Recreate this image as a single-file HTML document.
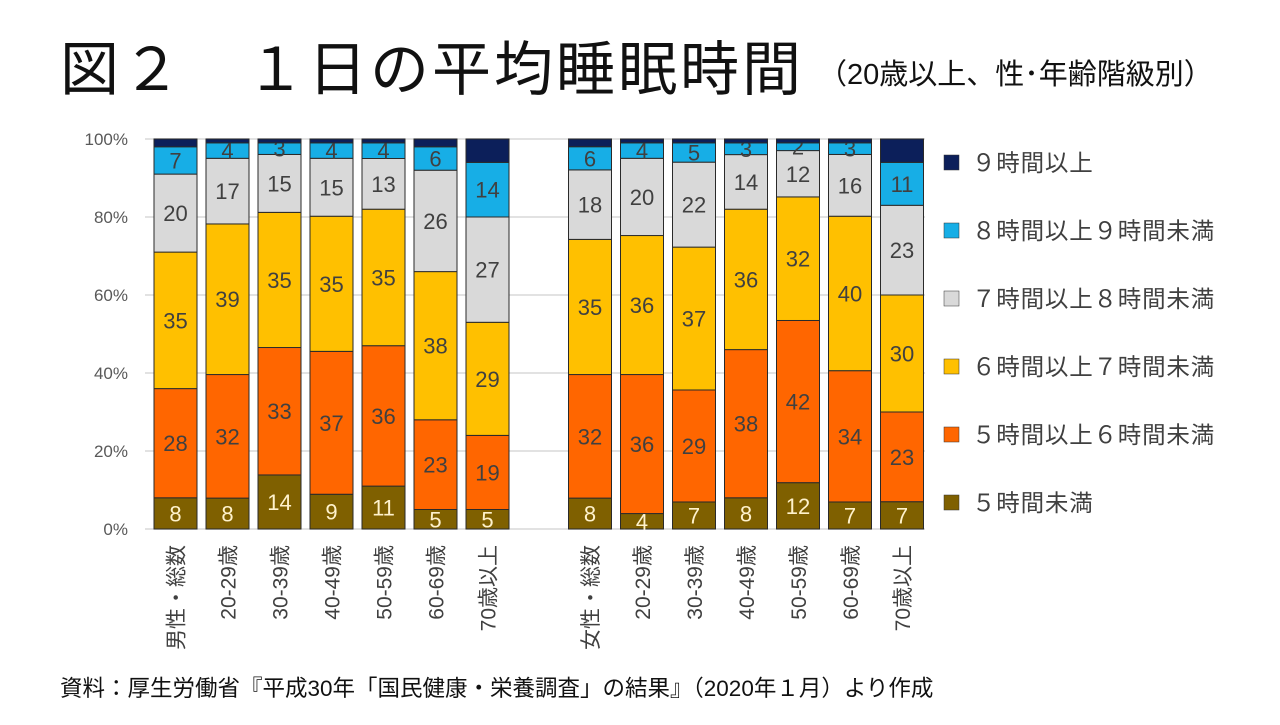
<!DOCTYPE html>
<html><head><meta charset="utf-8"><style>
body{margin:0;width:1280px;height:720px;background:#fff;overflow:hidden;font-family:"Liberation Sans","Noto Sans CJK JP",sans-serif}
</style></head><body>
<svg width="1280" height="720" xmlns="http://www.w3.org/2000/svg" font-family="Liberation Sans, Noto Sans CJK JP, sans-serif">
<text x="60" y="90" font-size="59" letter-spacing="3" fill="#111">図２　１日の平均睡眠時間<tspan font-size="29" letter-spacing="0" dx="14" dy="-6">（20歳以上、性･年齢階級別）</tspan></text>
<g id="grid"></g><g id="bars"></g><g id="xlabels"></g><g id="legend"></g>
<text x="60" y="696" font-size="22.5" fill="#111">資料：厚生労働省『平成30年「国民健康・栄養調査」の結果』（2020年１月）より作成</text>
</svg>
<script>
const categories=["男性・総数","20-29歳","30-39歳","40-49歳","50-59歳","60-69歳","70歳以上","女性・総数","20-29歳","30-39歳","40-49歳","50-59歳","60-69歳","70歳以上"];
const seriesNames=["5時間未満","5時間以上６時間未満","6時間以上７時間未満","7時間以上８時間未満","8時間以上９時間未満","9時間以上"];
const under5=[8,8,14,9,11,5,5,8,4,7,8,12,7,7];
const h5to6=[28,32,33,37,36,23,19,32,36,29,38,42,34,23];
const h6to7=[35,39,35,35,35,38,29,35,36,37,36,32,40,30];
const h7to8=[20,17,15,15,13,26,27,18,20,22,14,12,16,23];
const h8to9=[7,4,3,4,4,6,14,6,4,5,3,2,3,11];
const over9=[2,1,1,1,1,2,6,2,1,1,1,1,1,6];
const yTicks=[0,20,40,60,80,100];
const legendLabels=["９時間以上","８時間以上９時間未満","７時間以上８時間未満","６時間以上７時間未満","５時間以上６時間未満","５時間未満"];
const colors=["#7f6000","#ff6600","#ffc000","#d9d9d9","#17aee6","#0c1f5a"];
const series=[under5,h5to6,h6to7,h7to8,h8to9,over9];
const NS="http://www.w3.org/2000/svg";
const y0=529,y100=139;
const y=v=>y0-(y0-y100)*v/100;
const xc=i=>i<7?175.5+52*i:590+52*(i-7);
const bw=43;
function mk(t,a,p){const e=document.createElementNS(NS,t);for(const k in a)e.setAttribute(k,a[k]);p.appendChild(e);return e;}
const grid=document.getElementById('grid');
yTicks.forEach(t=>{
 const l=mk('line',{x1:145,x2:925,y1:y(t),y2:y(t),stroke:'#d9d9d9','stroke-width':1.5},grid);
 
 
 const tx=mk('text',{x:128,y:y(t)+6,'font-size':17,fill:'#595959','text-anchor':'end'},grid);
 tx.textContent=t+'%';
 
 
});
const bars=document.getElementById('bars');
categories.forEach((c,i)=>{
 let tot=0;series.forEach(s=>tot+=s[i]);
 let acc=0;
 series.forEach((s,k)=>{
  const v=s[i]*100/tot;
  const top=y(acc+v),bot=y(acc);
  const r=mk('rect',{x:xc(i)-bw/2,y:top,width:bw,height:bot-top,fill:colors[k],stroke:'#2a2a2a','stroke-width':1},bars);
  
  
  if(k<5){
   const t=mk('text',{x:xc(i),y:(top+bot)/2+8,'font-size':22,'text-anchor':'middle',fill:k==0?'#fff2cc':'#404040'},bars);
   t.textContent=s[i];
   
   
  }
  acc+=v;
 });
 const xl=mk('text',{transform:`translate(${xc(i)+8},545) rotate(-90)`,'font-size':21,fill:'#404040','text-anchor':'end'},document.getElementById('xlabels'));
 xl.textContent=c;
 
 
});
const lg=document.getElementById('legend');
legendLabels.forEach((l,j)=>{
 const yy=163+68*j;
 const r=mk('rect',{x:944,y:yy-8,width:15,height:15,fill:colors[5-j],stroke:'#333','stroke-width':0.5},lg);
 
 
 const t=mk('text',{x:972,y:yy+8,'font-size':23.5,fill:'#404040','letter-spacing':0.8},lg);
 t.textContent=l;
 
 
});
</script>
</body></html>
